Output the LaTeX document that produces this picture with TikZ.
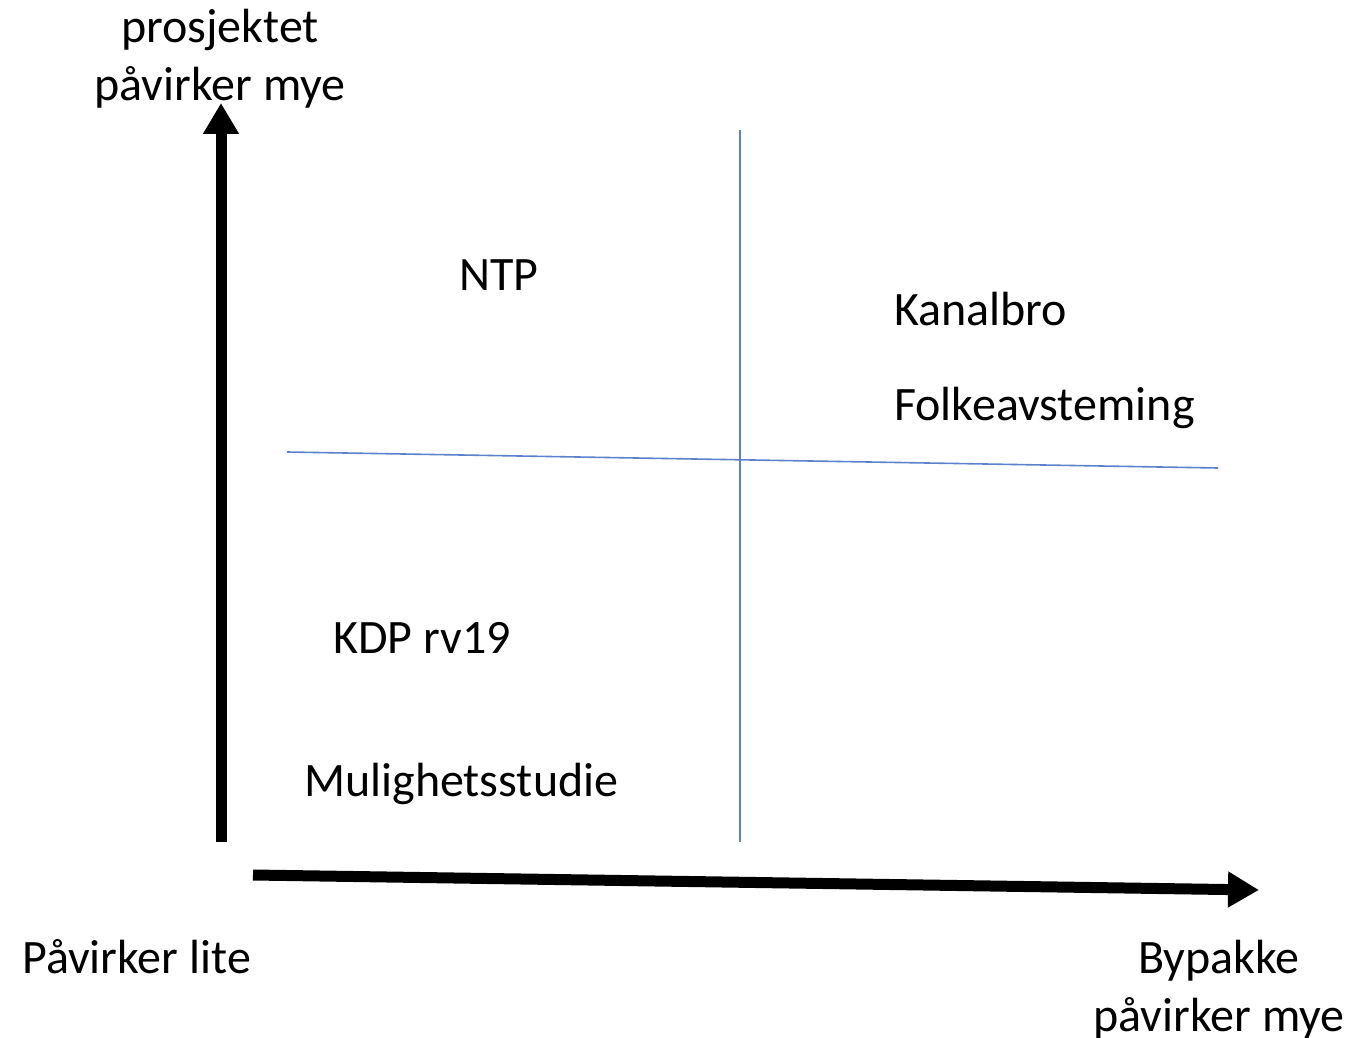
\documentclass[tikz,border=0pt]{standalone}
\usepackage{fontspec}
\setmainfont{Carlito}
\usetikzlibrary{arrows.meta}
\definecolor{gridblue}{RGB}{90,130,205}
\tikzset{
  lbl/.style={inner sep=0pt, font=\fontsize{48}{58}\selectfont, text=black},
  axis/.style={line width=11pt, -{Triangle[length=31pt,width=34pt]}},
  grid/.style={draw=gridblue, line width=1.6pt}
}
\begin{document}
\begin{tikzpicture}[x=1pt,y=-1pt]
\useasboundingbox (0,0) rectangle (1366,1038);
% axes
\coordinate (vs) at (221,842);
\coordinate (ve) at (221,103);
\coordinate (hs) at (253,875);
\coordinate (he) at (1259,890);
\draw[axis] (vs) -- (ve);
\draw[axis] (hs) -- (he);
% quadrant lines
\coordinate (gvt) at (740,130);
\coordinate (gvb) at (740,842);
\coordinate (ghl) at (287,452);
\coordinate (ghr) at (1218,468);
\draw[grid] (gvt) -- (gvb);
\draw[grid] (ghl) -- (ghr);
% labels
\node[lbl, anchor=base] (top) at (220,43) {prosjektet};
\node[lbl, anchor=base] (top2) at (220,101) {påvirker mye};
\node[lbl, anchor=base west] (left) at (22,973) {Påvirker lite};
\node[lbl, anchor=base] (right) at (1219,973) {Bypakke};
\node[lbl, anchor=base] (right2) at (1219,1031) {påvirker mye};
\node[lbl, anchor=base west] (ntp) at (459,290) {NTP};
\node[lbl, anchor=base west] (kanal) at (894,325) {Kanalbro};
\node[lbl, anchor=base west] (folk) at (894,420) {Folkeavsteming};
\node[lbl, anchor=base west] (kdp) at (333,653) {KDP rv19};
\node[lbl, anchor=base west] (mul) at (304,796) {Mulighetsstudie};
\end{tikzpicture}
\end{document}
